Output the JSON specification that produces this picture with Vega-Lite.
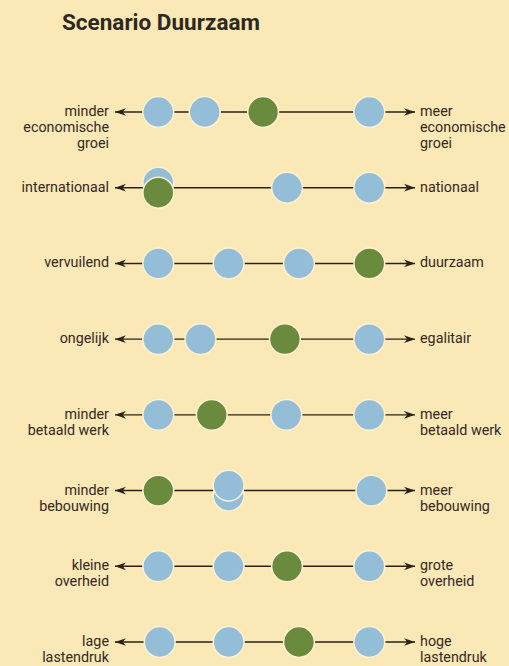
{
  "$schema": "https://vega.github.io/schema/vega-lite/v6.json",
  "width": 509,
  "height": 616,
  "autosize": {"type": "none"},
  "padding": {"left": 0, "right": 0, "top": 50, "bottom": 0},
  "background": "#fbe8b7",
  "config": {"view": {"stroke": null}},
  "title": {
    "text": "Scenario Duurzaam",
    "anchor": "start",
    "frame": "group",
    "dx": 62,
    "offset": -2,
    "fontSize": 22.5,
    "font": "Roboto",
    "fontWeight": "bold",
    "color": "#2e2920",
    "baseline": "alphabetic"
  },
  "datasets": {
    "axes": [
      {"row": 1, "left": "minder\neconomische\ngroei", "right": "meer\neconomische\ngroei"},
      {"row": 2, "left": "internationaal", "right": "nationaal"},
      {"row": 3, "left": "vervuilend", "right": "duurzaam"},
      {"row": 4, "left": "ongelijk", "right": "egalitair"},
      {"row": 5, "left": "minder\nbetaald werk", "right": "meer\nbetaald werk"},
      {"row": 6, "left": "minder\nbebouwing", "right": "meer\nbebouwing"},
      {"row": 7, "left": "kleine\noverheid", "right": "grote\noverheid"},
      {"row": 8, "left": "lage\nlastendruk", "right": "hoge\nlastendruk"}
    ],
    "points": [
      {"row": 1, "score": 1.0, "scenario": "overig", "lag": 0},
      {"row": 1, "score": 1.66, "scenario": "overig", "lag": 0},
      {"row": 1, "score": 2.49, "scenario": "Duurzaam", "lag": 0},
      {"row": 1, "score": 4.0, "scenario": "overig", "lag": 0},
      {"row": 2, "score": 1.0, "scenario": "overig", "lag": -1},
      {"row": 2, "score": 1.0, "scenario": "Duurzaam", "lag": 1},
      {"row": 2, "score": 2.83, "scenario": "overig", "lag": 0},
      {"row": 2, "score": 4.0, "scenario": "overig", "lag": 0},
      {"row": 3, "score": 1.0, "scenario": "overig", "lag": 0},
      {"row": 3, "score": 2.0, "scenario": "overig", "lag": 0},
      {"row": 3, "score": 3.0, "scenario": "overig", "lag": 0},
      {"row": 3, "score": 4.0, "scenario": "Duurzaam", "lag": 0},
      {"row": 4, "score": 1.0, "scenario": "overig", "lag": 0},
      {"row": 4, "score": 1.6, "scenario": "overig", "lag": 0},
      {"row": 4, "score": 2.8, "scenario": "Duurzaam", "lag": 0},
      {"row": 4, "score": 4.0, "scenario": "overig", "lag": 0},
      {"row": 5, "score": 1.0, "scenario": "overig", "lag": 0},
      {"row": 5, "score": 1.76, "scenario": "Duurzaam", "lag": 0},
      {"row": 5, "score": 2.82, "scenario": "overig", "lag": 0},
      {"row": 5, "score": 4.0, "scenario": "overig", "lag": 0},
      {"row": 6, "score": 1.0, "scenario": "Duurzaam", "lag": 0},
      {"row": 6, "score": 2.0, "scenario": "overig", "lag": 1},
      {"row": 6, "score": 2.0, "scenario": "overig", "lag": -1},
      {"row": 6, "score": 4.03, "scenario": "overig", "lag": 0},
      {"row": 7, "score": 1.0, "scenario": "overig", "lag": 0},
      {"row": 7, "score": 2.0, "scenario": "overig", "lag": 0},
      {"row": 7, "score": 2.83, "scenario": "Duurzaam", "lag": 0},
      {"row": 7, "score": 4.0, "scenario": "overig", "lag": 0},
      {"row": 8, "score": 1.02, "scenario": "overig", "lag": 0},
      {"row": 8, "score": 2.0, "scenario": "overig", "lag": 0},
      {"row": 8, "score": 3.0, "scenario": "Duurzaam", "lag": 0},
      {"row": 8, "score": 4.0, "scenario": "overig", "lag": 0}
    ]
  },
  "encoding": {
    "y": {
      "field": "row",
      "type": "ordinal",
      "scale": {"type": "point", "domain": [1, 2, 3, 4, 5, 6, 7, 8], "range": [62, 592], "padding": 0},
      "axis": null
    }
  },
  "layer": [
    {
      "data": {"name": "axes"},
      "mark": {"type": "rule", "stroke": "#2b2116", "strokeWidth": 1.4},
      "encoding": {
        "x": {"datum": 0.384, "type": "quantitative", "scale": {"domain": [1, 4], "range": [158.3, 369.3], "nice": false, "zero": false}, "axis": null},
        "x2": {"datum": 4.65}
      }
    },
    {
      "data": {"name": "axes"},
      "mark": {"type": "point", "shape": "M0,0L2,-0.7L1.4,0L2,0.7Z", "filled": true, "fill": "#2b2116", "strokeWidth": 0, "size": 121, "opacity": 1},
      "encoding": {"x": {"datum": 0.384, "type": "quantitative"}}
    },
    {
      "data": {"name": "axes"},
      "mark": {"type": "point", "shape": "M0,0L-2,-0.7L-1.4,0L-2,0.7Z", "filled": true, "fill": "#2b2116", "strokeWidth": 0, "size": 121, "opacity": 1},
      "encoding": {"x": {"datum": 4.65, "type": "quantitative"}}
    },
    {
      "data": {"name": "points"},
      "mark": {"type": "point", "shape": "circle", "filled": true, "size": 950, "stroke": "#fdf1cf", "strokeWidth": 1.5, "opacity": 1},
      "encoding": {
        "x": {"field": "score", "type": "quantitative"},
        "yOffset": {"field": "lag", "type": "quantitative", "scale": {"domain": [-1, 1], "range": [-5, 5]}},
        "fill": {"field": "scenario", "type": "nominal", "scale": {"domain": ["Duurzaam", "overig"], "range": ["#6a8a3e", "#94bed7"]}, "legend": null}
      }
    },
    {
      "data": {"name": "axes"},
      "mark": {"type": "text", "align": "right", "baseline": "middle", "dx": -6, "font": "Roboto", "fontSize": 14.3, "color": "#33291e", "lineBreak": "\n", "lineHeight": 16},
      "encoding": {"x": {"datum": 0.384, "type": "quantitative"}, "text": {"field": "left"}}
    },
    {
      "data": {"name": "axes"},
      "mark": {"type": "text", "align": "left", "baseline": "middle", "dx": 5, "font": "Roboto", "fontSize": 14.3, "color": "#33291e", "lineBreak": "\n", "lineHeight": 16},
      "encoding": {"x": {"datum": 4.65, "type": "quantitative"}, "text": {"field": "right"}}
    }
  ]
}
